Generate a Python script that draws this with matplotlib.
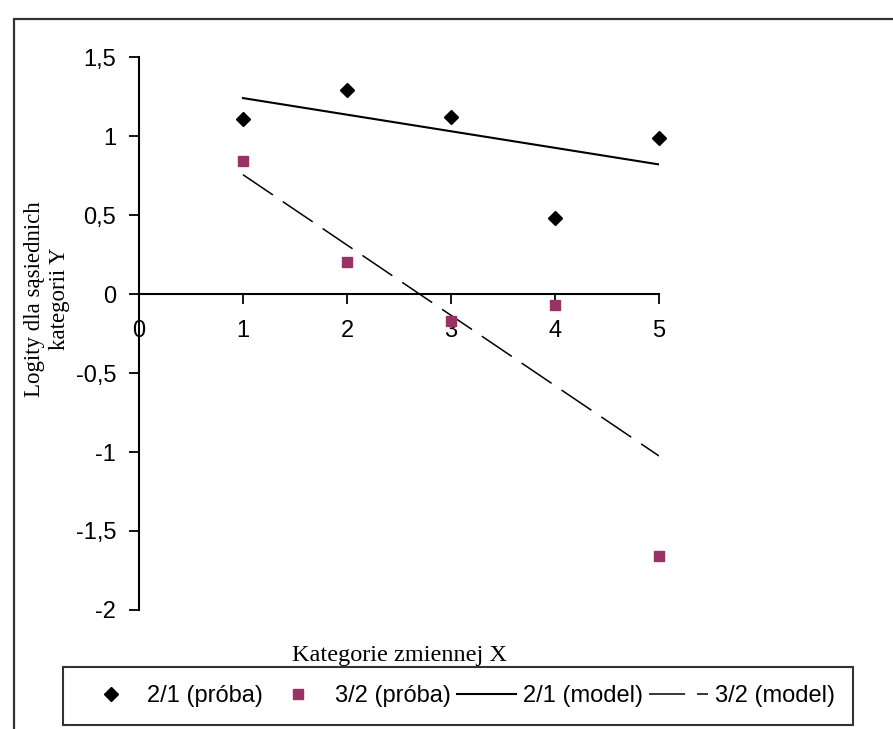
import matplotlib
matplotlib.use("Agg")
import matplotlib.pyplot as plt
from matplotlib.patches import Rectangle

# === data ===
categories = [1, 2, 3, 4, 5]
sample_21 = [1.11, 1.29, 1.12, 0.48, 0.99]
sample_32 = [0.84, 0.20, -0.17, -0.07, -1.66]
model_21 = [1.24, 1.135, 1.03, 0.925, 0.82]
model_32 = [0.755, 0.31, -0.135, -0.58, -1.025]

x_ticks = [0, 1, 2, 3, 4, 5]
x_ticklabels = ["0", "1", "2", "3", "4", "5"]
y_ticks = [1.5, 1, 0.5, 0, -0.5, -1, -1.5, -2]
y_ticklabels = ["1,5", "1", "0,5", "0", "-0,5", "-1", "-1,5", "-2"]

series_labels = ["2/1 (próba)", "3/2 (próba)", "2/1 (model)", "3/2 (model)"]

plt.rcParams["font.family"] = ["Liberation Sans", "DejaVu Sans"]
plt.rcParams["lines.scale_dashes"] = False

W, H = 893, 729
fig = plt.figure(figsize=(W / 100, H / 100), dpi=100)

# outer chart frame (only left and top edges are inside the picture)
fig.patches.append(Rectangle((14 / W, -0.05), 1.0, 1.05 - 19 / H, transform=fig.transFigure,
                             fill=False, edgecolor="#333333", linewidth=1.6))

ax = fig.add_axes([139 / W, 1 - 610 / H, 520 / W, 553 / H])
ax.set_xlim(0, 5)
ax.set_ylim(-2, 1.5)

ax.plot(categories, sample_21, linestyle="none", marker="D", markersize=7,
        color="black", clip_on=False, label=series_labels[0], zorder=4)
ax.plot(categories, sample_32, linestyle="none", marker="s", markersize=6.5,
        color="#993366", clip_on=False, label=series_labels[1], zorder=4)
ax.plot(categories, model_21, color="black", linewidth=1.5, label=series_labels[2])
ax.plot(categories, model_32, color="black", linewidth=1.1, dashes=(26, 8.6),
        label=series_labels[3])

# spines: y axis on the left, x axis through zero
ax.spines["top"].set_visible(False)
ax.spines["right"].set_visible(False)
ax.spines["bottom"].set_position(("data", 0))
ax.spines["left"].set_linewidth(1.5)
ax.spines["bottom"].set_linewidth(1.5)

ax.set_xticks(x_ticks)
ax.set_xticklabels(x_ticklabels)
ax.set_yticks(y_ticks)
ax.set_yticklabels(y_ticklabels)
ax.tick_params(axis="both", direction="out", length=7.5, width=1.3,
               labelsize=17, colors="black")
ax.tick_params(axis="x", pad=11)
ax.tick_params(axis="y", pad=9)

# axis titles (serif, as in the original)
fig.text(400 / W, 1 - 655 / H, "Kategorie zmiennej X", family="Liberation Serif",
         fontsize=17.5, ha="center", va="center")
fig.text(47 / W, 1 - 299 / H, "Logity dla sąsiednich\nkategorii Y", family="Liberation Serif",
         fontsize=16.5, ha="center", va="center", rotation=90, linespacing=1.25)

leg = fig.legend(loc="center", bbox_to_anchor=(458 / W, 1 - 696 / H), ncol=4,
                 fontsize=17, frameon=True, fancybox=False, handlelength=2.5,
                 handletextpad=0.3, columnspacing=0.25, borderpad=0.75,
                 borderaxespad=0)
leg.get_frame().set_edgecolor("black")
leg.get_frame().set_linewidth(1.5)

fig.savefig("out.png", dpi=100)
